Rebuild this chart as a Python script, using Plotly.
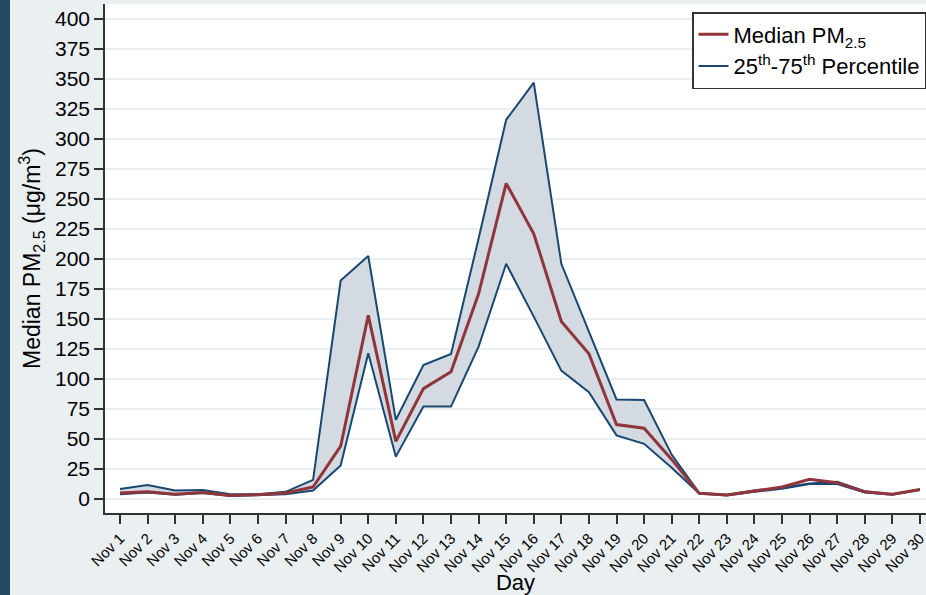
import plotly.graph_objects as go

# Daily PM2.5 summary, November
days = list(range(1, 31))
day_labels = [f"Nov {d}" for d in days]

median_pm25 = [5, 6, 4, 5.5, 3, 3.6, 5, 10, 44, 153, 48, 92, 106, 171, 263,
               221, 148, 121, 62, 59, 33, 4.7, 3.3, 6.5, 10, 16.4, 13.6, 6, 4, 8]
p75_pm25 = [8.3, 11.7, 7, 7.5, 4, 4, 6, 16, 182, 202.5, 66, 111.7, 120.8, 217, 316,
            347, 196, 140, 83, 82.5, 37, 5, 3.5, 7, 9.4, 13, 14.4, 6.5, 4, 8]
p25_pm25 = [4, 5.5, 3.5, 5, 2.5, 3, 4, 7, 28, 121.4, 35.3, 77, 77, 127, 196,
            152, 107, 89, 53, 46, 26, 4.5, 3, 6, 8.5, 12.5, 12.5, 5.5, 3.5, 7.5]

NAVY = "#1a476f"
MAROON = "#90353b"
BAND = "#d3dae2"
BG = "#eaeff2"
FONT = "Liberation Sans, Arial, sans-serif"

fig = go.Figure()

fig.add_trace(go.Scatter(
    x=days, y=p25_pm25, mode="lines", name="25<sup>th</sup>-75<sup>th</sup> Percentile",
    line=dict(color=NAVY, width=2), legendrank=2, hoverinfo="skip"))
fig.add_trace(go.Scatter(
    x=days, y=p75_pm25, mode="lines", fill="tonexty", fillcolor=BAND,
    line=dict(color=NAVY, width=2), showlegend=False, hoverinfo="skip"))
fig.add_trace(go.Scatter(
    x=days, y=median_pm25, mode="lines", name="Median PM<sub>2.5</sub>",
    line=dict(color=MAROON, width=3), legendrank=1))

plot_w = 926 - 105
plot_h = 513 - 4

fig.update_layout(
    width=926, height=595,
    margin=dict(l=105, r=0, t=4, b=82),
    paper_bgcolor=BG, plot_bgcolor="white",
    font=dict(family=FONT, color="black"),
    xaxis=dict(
        range=[0.456, 30.22], tickmode="array", tickvals=days, ticktext=day_labels,
        tickangle=-45, tickfont=dict(size=15), ticks="outside", ticklen=9,
        tickcolor="#333", tickwidth=1.5, showgrid=False, zeroline=False,
        showline=True, linecolor="#333", linewidth=1.5, ticklabeloverflow="allow",
        title=dict(text="Day", font=dict(size=22), standoff=2),
    ),
    yaxis=dict(
        range=[-11.67, 412.5], tickmode="array", tickvals=list(range(0, 401, 25)),
        tickfont=dict(size=21), ticks="outside", ticklen=9, tickcolor="#333",
        tickwidth=1.5, showgrid=True, gridcolor="#eaf0f2", gridwidth=1.5,
        zeroline=False, showline=True, linecolor="#333", linewidth=1.5,
        title=dict(text="Median PM<sub>2.5</sub> (μg/m<sup>3</sup>)",
                   font=dict(size=23), standoff=8),
    ),
    legend=dict(
        x=1, xanchor="right", y=1 - 8 / plot_h, yanchor="top",
        bgcolor="white", bordercolor="#333", borderwidth=1.5,
        font=dict(size=22), itemwidth=30, tracegroupgap=0, traceorder="normal",
    ),
    shapes=[dict(
        type="rect", xref="paper", yref="paper",
        x0=-105 / plot_w, x1=-95 / plot_w, y0=-82 / plot_h, y1=1 + 4 / plot_h,
        fillcolor="#264a61", line=dict(width=0), layer="below",
    )],
)

fig.write_html("out.html")
